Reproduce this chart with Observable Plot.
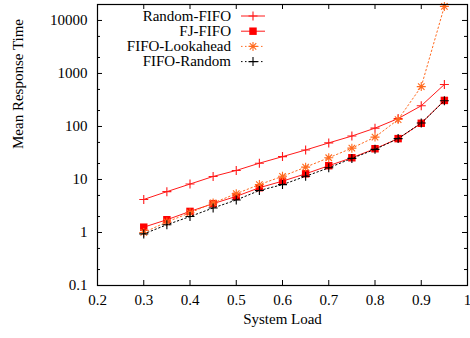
<!DOCTYPE html>
<html>
<head>
<meta charset="utf-8">
<script src="https://cdn.jsdelivr.net/npm/d3@7"></script>
<script src="https://cdn.jsdelivr.net/npm/@observablehq/plot@0.6"></script>
<style>
  html, body { margin: 0; padding: 0; background: #fff; }
  #chart { width: 470px; height: 338px; overflow: hidden; }
</style>
</head>
<body>
<div id="chart"></div>
<script>
const loads = [0.3, 0.35, 0.4, 0.45, 0.5, 0.55, 0.6, 0.65, 0.7, 0.75, 0.8, 0.85, 0.9, 0.95];
const randomFifo   = [4.2, 5.9, 8.2, 11.4, 14.8, 20.3, 27, 36, 49, 66, 93, 141, 246, 620];
const fjFifo       = [1.26, 1.74, 2.5, 3.5, 4.8, 7.0, 9.3, 12.8, 18.2, 25.7, 38, 59, 115, 310];
const fifoLookahead= [1.0, 1.58, 2.35, 3.6, 5.4, 8.0, 11.5, 17.1, 25.7, 39, 63, 135, 565, 18400];
const fifoRandom   = [0.94, 1.4, 2.0, 2.9, 4.1, 6.2, 8.0, 11.5, 16.6, 25, 37, 59, 116, 305];

const seriesNames = ["Random-FIFO", "FJ-FIFO", "FIFO-Lookahead", "FIFO-Random"];
const xTicks = [0.2, 0.3, 0.4, 0.5, 0.6, 0.7, 0.8, 0.9, 1.0];
const yTicks = [0.1, 1, 10, 100, 1000, 10000];
const yMinor = [0.2, 0.5, 2, 5, 20, 50, 200, 500, 2000, 5000];

const W = 470, H = 338;
const mL = 97, mR = 3, mT = 4, mB = 53;
const pw = W - mL - mR, ph = H - mT - mB;

const font = "'Liberation Serif', 'DejaVu Serif', serif";

// custom stroked symbols
function crossSym() {
  return { draw(ctx, size) { const r = Math.sqrt(size / Math.PI);
    ctx.moveTo(-r, 0); ctx.lineTo(r, 0); ctx.moveTo(0, -r); ctx.lineTo(0, r); } };
}
function starSym() {
  return { draw(ctx, size) { const r = Math.sqrt(size / Math.PI); const d = r * 0.72;
    ctx.moveTo(-r, 0); ctx.lineTo(r, 0); ctx.moveTo(0, -r); ctx.lineTo(0, r);
    ctx.moveTo(-d, -d); ctx.lineTo(d, d); ctx.moveTo(-d, d); ctx.lineTo(d, -d); } };
}

const styles = [
  { name: seriesNames[0], vals: randomFifo, color: "#ff1a1a", dash: null, symbol: crossSym(), r: 4.5, fill: "none", stroke: "#ff1a1a" },
  { name: seriesNames[1], vals: fjFifo, color: "#ff1a1a", dash: null, symbol: "square", r: 4.2, fill: "#ff0000", stroke: "none" },
  { name: seriesNames[2], vals: fifoLookahead, color: "#ff6a1f", dash: "1.5,2.5", symbol: starSym(), r: 4.5, fill: "none", stroke: "#ff6a1f" },
  { name: seriesNames[3], vals: fifoRandom, color: "#000000", dash: "1.5,2.5", symbol: crossSym(), r: 4.5, fill: "none", stroke: "#000000" }
];

const marks = [];
// inward ticks on all four sides
marks.push(Plot.tickX(xTicks, { x: d => d, insetTop: ph - 5, stroke: "black" }));
marks.push(Plot.tickX(xTicks, { x: d => d, insetBottom: ph - 5, stroke: "black" }));
marks.push(Plot.tickY(yTicks, { y: d => d, insetRight: pw - 5, stroke: "black" }));
marks.push(Plot.tickY(yTicks, { y: d => d, insetLeft: pw - 5, stroke: "black" }));
marks.push(Plot.tickY(yMinor, { y: d => d, insetRight: pw - 3, stroke: "black" }));
marks.push(Plot.tickY(yMinor, { y: d => d, insetLeft: pw - 3, stroke: "black" }));

for (const s of styles) {
  const data = loads.map((x, i) => ({ x, y: s.vals[i] }));
  marks.push(Plot.line(data, { x: "x", y: "y", stroke: s.color, strokeWidth: 1, strokeDasharray: s.dash || undefined }));
  marks.push(Plot.dot(data, { x: "x", y: "y", symbol: () => s.symbol, r: s.r, fill: s.fill, stroke: s.stroke, strokeWidth: 1.1 }));
}

marks.push(Plot.frame({ stroke: "black", strokeWidth: 1.2 }));
marks.push(Plot.axisX(xTicks, { tickSize: 0, tickPadding: 9, tickFormat: d => d === 1 ? "1" : d.toFixed(1), label: null, fontSize: 15 }));
marks.push(Plot.axisY(yTicks, { tickSize: 0, tickPadding: 10, tickFormat: d => String(d), label: null, fontSize: 15 }));
marks.push(Plot.text(["System Load"], { text: d => d, frameAnchor: "bottom", dy: 38, fontSize: 15, fill: "black" }));
marks.push(Plot.text(["Mean Response Time"], { text: d => d, frameAnchor: "left", dx: -79, dy: 4, rotate: -90, fontSize: 15, fill: "black" }));

const chart = Plot.plot({
  width: W, height: H,
  marginLeft: mL, marginRight: mR, marginTop: mT, marginBottom: mB,
  style: { fontFamily: font, fontSize: "15px", color: "black", background: "white", overflow: "visible" },
  x: { domain: [0.2, 1.0] },
  y: { type: "log", domain: [0.1, 20000] },
  symbol: { type: "identity" },
  marks
});

// legend (inside plot, top-left)
const svg = d3.select(chart);
const lg = svg.append("g").attr("font-family", font).attr("font-size", 15);
const textRight = 231, lineX1 = 241, lineX2 = 265, row0 = 16, rowH = 15.2;
styles.forEach((s, i) => {
  const y = row0 + i * rowH;
  lg.append("text").attr("x", textRight).attr("y", y).attr("dy", "0.32em").attr("text-anchor", "end").attr("fill", "black").text(s.name);
  lg.append("line").attr("x1", lineX1).attr("x2", lineX2).attr("y1", y).attr("y2", y)
    .attr("stroke", s.color).attr("stroke-width", 1).attr("stroke-dasharray", s.dash);
  const cx = (lineX1 + lineX2) / 2;
  const sym = typeof s.symbol === "string" ? d3.symbolSquare : s.symbol;
  lg.append("path").attr("transform", `translate(${cx},${y})`)
    .attr("d", d3.symbol(sym, s.r * s.r * Math.PI)())
    .attr("fill", s.fill).attr("stroke", s.stroke).attr("stroke-width", 1.1);
});

document.getElementById("chart").appendChild(chart);
</script>
</body>
</html>
